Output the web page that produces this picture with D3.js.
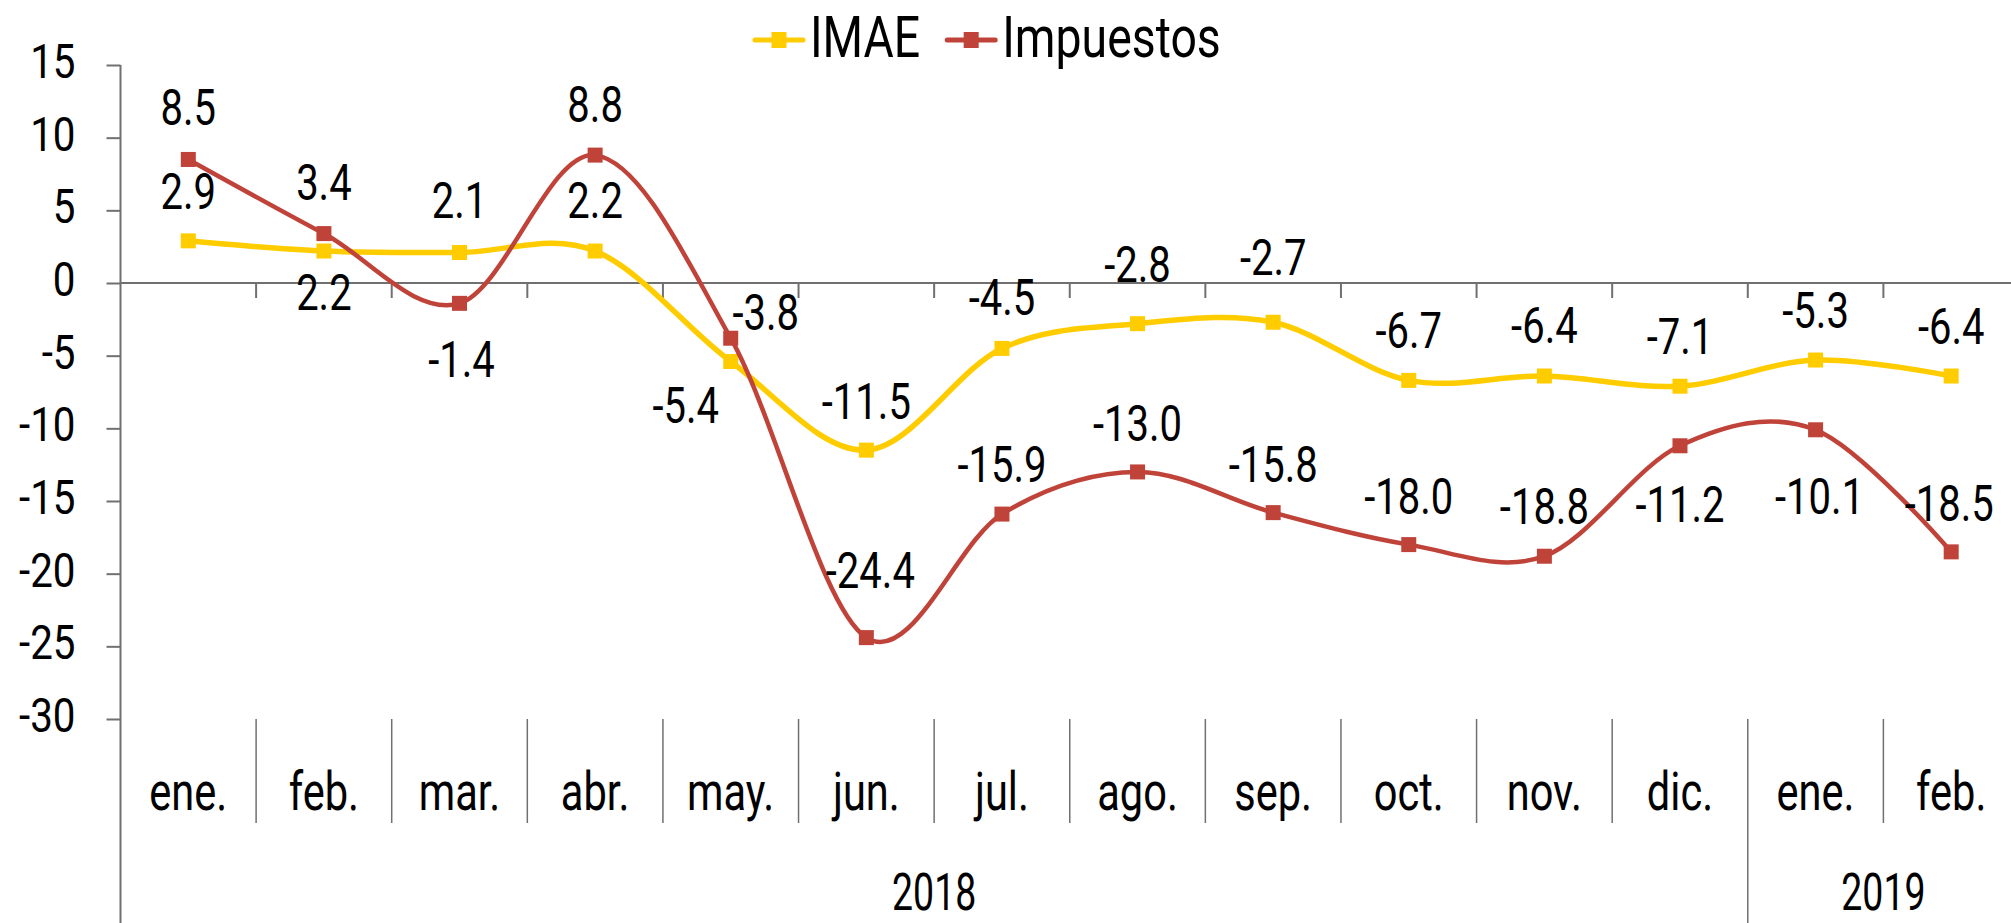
<!DOCTYPE html>
<html>
<head>
<meta charset="utf-8">
<script src="https://cdn.jsdelivr.net/npm/d3@7"></script>
<style>
  body { margin: 0; background: #fff; }
  text { font-family: Roboto, "Liberation Sans", sans-serif; fill: #000; }
</style>
</head>
<body>
<div id="chart"></div>
<script>
// data
const months = ["ene.", "feb.", "mar.", "abr.", "may.", "jun.", "jul.", "ago.", "sep.", "oct.", "nov.", "dic.", "ene.", "feb."];
const yearLabels = ["2018", "2019"];
const yearSpans = [12, 2];
const seriesNames = ["IMAE", "Impuestos"];
const imae = [2.9, 2.2, 2.1, 2.2, -5.4, -11.5, -4.5, -2.8, -2.7, -6.7, -6.4, -7.1, -5.3, -6.4];
const impuestos = [8.5, 3.4, -1.4, 8.8, -3.8, -24.4, -15.9, -13.0, -15.8, -18.0, -18.8, -11.2, -10.1, -18.5];
const yTicks = [15, 10, 5, 0, -5, -10, -15, -20, -25, -30];

// label nudges (px) relative to each point, as placed in the original
const imaeLabelOffsets = [[0, -50], [0, 41], [0, -52], [0, -51], [-45, 44], [0, -49], [0, -51], [0, -60], [0, -65], [0, -50], [0, -51], [0, -50], [0, -50], [0, -50]];
const impLabelOffsets = [[0, -52], [0, -52], [2, 56], [0, -51], [35, -26], [4, -68], [0, -50], [0, -49], [0, -49], [0, -49], [0, -50], [0, 58], [4, 66], [-2, -49]];

const colors = { IMAE: "#FFCC00", Impuestos: "#C0433A" };
const axisColor = "#707070";

const W = 2011, H = 923;
const plot = { left: 120.5, right: 2019, top: 65, bottom: 719 };

// plain hyphen for negatives, like the original
var locale = d3.formatLocale({ decimal: ".", thousands: ",", grouping: [3], currency: ["", ""], minus: "-" });
var fmtLabel = locale.format(".1f");
var fmtTick = locale.format("d");

// squeeze text horizontally to mimic the narrow original face
const condense = (sel, k) => {
    sel.each(function () {
        var w = this.getComputedTextLength();
        d3.select(this).attr("textLength", w * k).attr("lengthAdjust", "spacingAndGlyphs");
    });
}

var svg = d3.select("#chart")
    .append("svg")
    .attr("width", W)
    .attr("height", H);

var x = d3.scaleBand()
    .domain(d3.range(months.length))
    .range([plot.left, plot.right])
    .padding(0);

var y = d3.scaleLinear()
    .domain([-30, 15])
    .range([plot.bottom, plot.top]);

var cx = i => x(i) + x.bandwidth() / 2;

// Y axis
var yAxis = svg.append("g")
    .attr("transform", "translate(" + plot.left + ",0)")
    .call(d3.axisLeft(y).tickValues(yTicks).tickSize(14).tickPadding(31).tickFormat(fmtTick));
yAxis.select(".domain").remove();
yAxis.selectAll(".tick line").attr("stroke", axisColor).attr("stroke-width", 2);
yAxis.selectAll(".tick text")
    .attr("font-size", 48)
    .attr("dy", "0.32em")
    .attr("y", -3)
    .call(condense, 0.84);

// y axis line runs down through the category area
svg.append("line")
    .attr("x1", plot.left).attr("x2", plot.left)
    .attr("y1", y(15)).attr("y2", H)
    .attr("stroke", axisColor).attr("stroke-width", 2);

// zero line with ticks between categories
var xAxis = svg.append("g")
    .attr("transform", "translate(0," + y(0) + ")");
xAxis.append("line")
    .attr("x1", plot.left).attr("x2", W)
    .attr("stroke", axisColor).attr("stroke-width", 2);
xAxis.selectAll(".sep")
    .data(d3.range(1, months.length))
    .enter()
    .append("line")
    .attr("x1", d => x(d)).attr("x2", d => x(d))
    .attr("y1", 0).attr("y2", 15)
    .attr("stroke", axisColor).attr("stroke-width", 2);

// category separators under the plot
var yearStarts = yearSpans.map((s, i) => d3.sum(yearSpans.slice(0, i)));
svg.selectAll(".catSep")
    .data(d3.range(1, months.length))
    .enter()
    .append("line")
    .attr("x1", d => x(d)).attr("x2", d => x(d))
    .attr("y1", plot.bottom)
    .attr("y2", d => yearStarts.includes(d) ? H : 823)
    .attr("stroke", axisColor).attr("stroke-width", 1.5);

// month labels
svg.selectAll(".month")
    .data(months)
    .enter()
    .append("text")
    .attr("x", (d, i) => cx(i))
    .attr("y", 810)
    .attr("text-anchor", "middle")
    .attr("font-size", 54)
    .text(d => d)
    .call(condense, 0.77);

// year labels
svg.selectAll(".year")
    .data(yearLabels)
    .enter()
    .append("text")
    .attr("x", (d, i) => {
        var a = x(yearStarts[i]);
        var b = x(yearStarts[i] + yearSpans[i] - 1) + x.bandwidth();
        return (a + b) / 2;
    })
    .attr("y", 910)
    .attr("text-anchor", "middle")
    .attr("font-size", 52)
    .text(d => d)
    .call(condense, 0.72);

// lines + markers
var line = d3.line()
    .x((d, i) => cx(i))
    .y(d => y(d))
    .curve(d3.curveCardinal.tension(0));

var series = [
    { name: "IMAE", values: imae, width: 5.5, offsets: imaeLabelOffsets },
    { name: "Impuestos", values: impuestos, width: 4.5, offsets: impLabelOffsets }
];

var mk = 15;
series.forEach(s => {
    svg.append("path")
        .datum(s.values)
        .attr("d", line)
        .attr("fill", "none")
        .attr("stroke", colors[s.name])
        .attr("stroke-width", s.width);

    svg.selectAll(".m-" + s.name)
        .data(s.values)
        .enter()
        .append("rect")
        .attr("x", (d, i) => cx(i) - mk / 2)
        .attr("y", d => y(d) - mk / 2)
        .attr("width", mk)
        .attr("height", mk)
        .attr("fill", colors[s.name]);
});

// data labels
series.forEach(s => {
    svg.selectAll(".l-" + s.name)
        .data(s.values)
        .enter()
        .append("text")
        .attr("x", (d, i) => cx(i) + s.offsets[i][0])
        .attr("y", (d, i) => y(d) + s.offsets[i][1] + 18)
        .attr("text-anchor", "middle")
        .attr("font-size", 50)
        .text(d => fmtLabel(d))
        .call(condense, 0.8);
});

// legend
var legend = svg.append("g").attr("transform", "translate(755,40)");
var lx = 0;
seriesNames.forEach(name => {
    var g = legend.append("g").attr("transform", "translate(" + lx + ",0)");
    g.append("line")
        .attr("x1", 0).attr("x2", 48)
        .attr("stroke", colors[name])
        .attr("stroke-width", 5)
        .attr("stroke-linecap", "round");
    g.append("rect")
        .attr("x", 24 - 7.5).attr("y", -8)
        .attr("width", 15).attr("height", 16)
        .attr("fill", colors[name]);
    var t = g.append("text")
        .attr("x", 55)
        .attr("y", 17)
        .attr("font-size", 58)
        .text(name)
        .call(condense, 0.8);
    // width already reflects the squeeze
    lx += 55 + t.node().getComputedTextLength() + 27;
});
</script>
</body>
</html>
